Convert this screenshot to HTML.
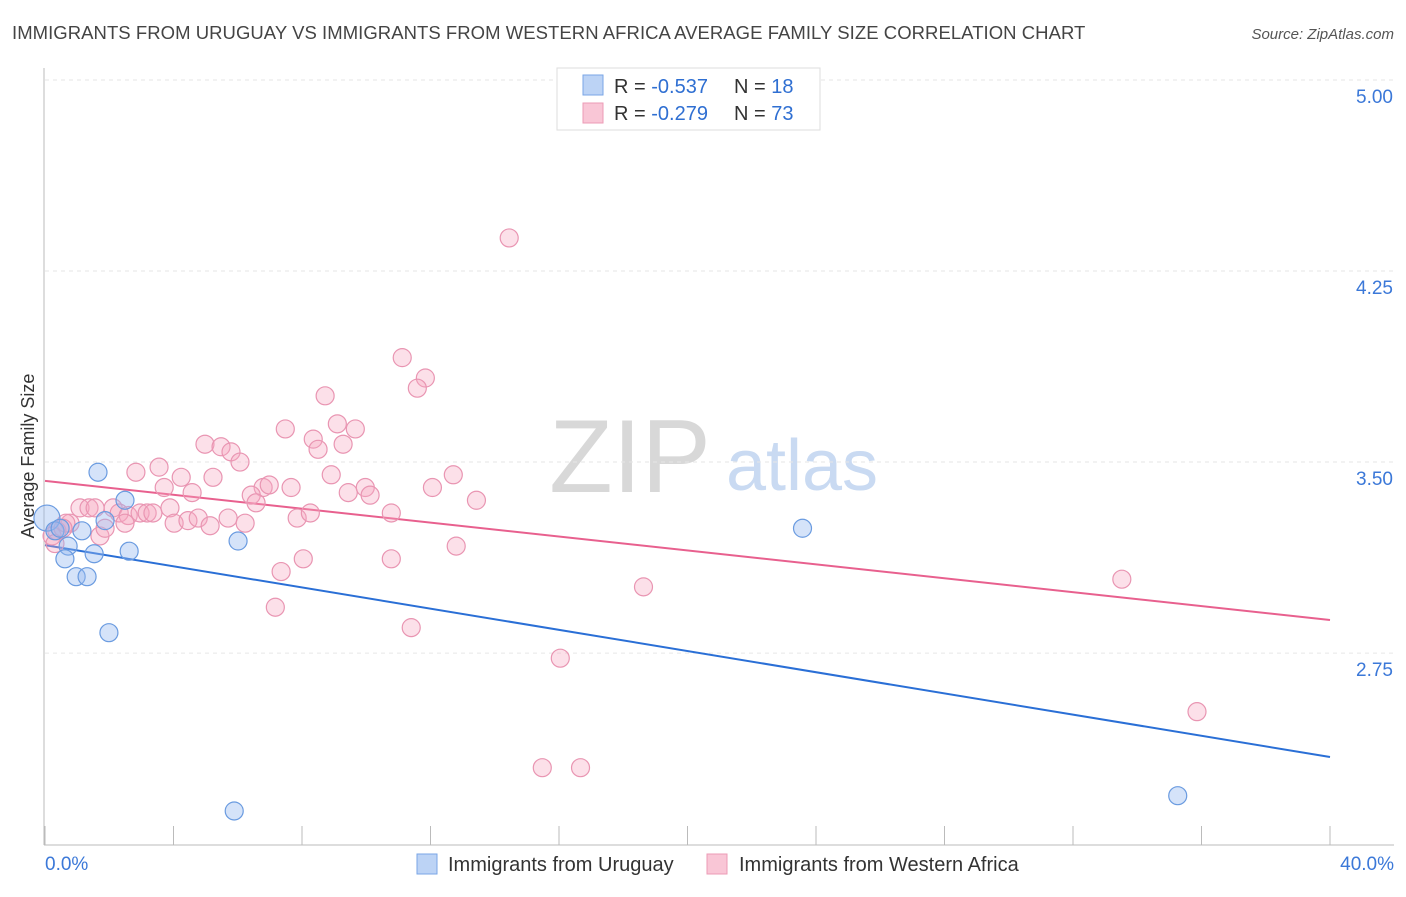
<!DOCTYPE html>
<html><head><meta charset="utf-8"><style>
body{margin:0;background:#fff;font-family:"Liberation Sans",sans-serif;}
svg text{font-family:"Liberation Sans",sans-serif;}
</style></head><body>
<svg id="chart" width="1406" height="892" viewBox="0 0 1406 892" xmlns="http://www.w3.org/2000/svg">
<text x="12" y="39" font-size="18.5" letter-spacing="0.05" fill="#444">IMMIGRANTS FROM URUGUAY VS IMMIGRANTS FROM WESTERN AFRICA AVERAGE FAMILY SIZE CORRELATION CHART</text>
<text x="1394" y="39" font-size="15" fill="#555" font-style="italic" text-anchor="end">Source: ZipAtlas.com</text>
<g>
<text x="630" y="492" font-size="104" fill="#d8d8d8" font-family="Liberation Serif" text-anchor="middle">ZIP</text>
<text x="802" y="490" font-size="72" fill="#c9daf2" text-anchor="middle">atlas</text>
</g>
<g id="grid"></g>
<g id="axes"></g>
<g id="lines"></g>
<g id="points"></g>
<text transform="translate(34,456) rotate(-90)" font-size="18" fill="#333" text-anchor="middle">Average Family Size</text>
<g>
<rect x="557" y="68" width="263" height="62" fill="#fff" stroke="#ddd"/>
<rect x="583" y="75" width="20" height="20" fill="#bcd3f5" stroke="#7aa6e6"/>
<rect x="583" y="103" width="20" height="20" fill="#f9c6d6" stroke="#ec9bb6"/>
<text x="614" y="93" font-size="20" fill="#333">R = <tspan fill="#2f6fd2">-0.537</tspan></text>
<text x="734" y="93" font-size="20" fill="#333">N = <tspan fill="#2f6fd2"> 18</tspan></text>
<text x="614" y="120" font-size="20" fill="#333">R = <tspan fill="#2f6fd2">-0.279</tspan></text>
<text x="734" y="120" font-size="20" fill="#333">N = <tspan fill="#2f6fd2">73</tspan></text>
</g>
<g>
<rect x="417" y="854" width="20" height="20" fill="#bcd3f5" stroke="#7aa6e6"/>
<text x="448" y="871" font-size="20" fill="#333">Immigrants from Uruguay</text>
<rect x="707" y="854" width="20" height="20" fill="#f9c6d6" stroke="#ec9bb6"/>
<text x="739" y="871" font-size="20" fill="#333">Immigrants from Western Africa</text>
</g>
</svg>
<script>
const yTicks=[5.00,4.25,3.50,2.75];
const yTickLabels=["5.00","4.25","3.50","2.75"];
const xTickLabels=["0.0%","40.0%"];
const uruguayX=[0.06,0.31,0.47,0.72,0.62,1.15,1.65,1.53,0.97,1.31,1.87,1.99,2.49,2.62,6.01,5.89,23.58,35.26];
const uruguayY=[3.28,3.23,3.24,3.17,3.12,3.23,3.46,3.14,3.05,3.05,3.27,2.83,3.35,3.15,3.19,2.13,3.24,2.19];
const africaX=[7.48,9.10,9.66,8.35,8.50,9.28,4.98,5.48,5.79,6.07,2.83,3.55,4.24,5.23,3.71,4.58,6.79,6.98,7.66,8.91,9.44,9.97,10.12,12.06,12.71,13.43,6.42,6.57,1.09,1.37,1.56,2.12,2.31,2.59,2.96,3.18,3.36,3.89,4.02,4.45,4.77,5.14,5.70,6.23,2.49,7.85,8.26,10.78,0.78,0.37,0.22,1.71,0.31,10.78,12.80,8.04,7.35,7.17,11.40,14.45,11.12,11.84,11.59,8.72,18.63,16.04,33.52,35.86,15.48,16.67,0.65,0.56,1.87];
const africaY=[3.63,3.65,3.63,3.59,3.55,3.57,3.57,3.56,3.54,3.50,3.46,3.48,3.44,3.44,3.40,3.38,3.40,3.41,3.40,3.45,3.38,3.40,3.37,3.40,3.45,3.35,3.37,3.34,3.32,3.32,3.32,3.32,3.30,3.29,3.30,3.30,3.30,3.32,3.26,3.27,3.28,3.25,3.28,3.26,3.26,3.28,3.30,3.30,3.26,3.23,3.21,3.21,3.18,3.12,3.17,3.12,3.07,2.93,2.85,4.38,3.91,3.83,3.79,3.76,3.01,2.73,3.04,2.52,2.30,2.30,3.26,3.24,3.24];
const uruguayTrend=[3.174,2.342];
const africaTrend=[3.426,2.880];
const NS="http://www.w3.org/2000/svg";
const X=v=>45+v*(1285/40);
const Y=v=>80+(5-v)*254.7;
function mk(tag,attrs,parent){const e=document.createElementNS(NS,tag);for(const k in attrs)e.setAttribute(k,attrs[k]);document.getElementById(parent).appendChild(e);return e;}
yTicks.forEach((t,i)=>{
 const g=mk('line',{x1:45,x2:1394,y1:Y(t),y2:Y(t),stroke:'#e6e6e6','stroke-dasharray':'4,4'},'grid');
 
 
 const l=mk('text',{x:1393,y:Y(t)+23,'font-size':19,fill:'#3b78d8','text-anchor':'end'},'axes');
 l.textContent=yTickLabels[i];
 
 
});
const ya=mk('line',{x1:44,x2:44,y1:68,y2:845,stroke:'#bbb'},'axes');


const xa=mk('line',{x1:44,x2:1394,y1:845,y2:845,stroke:'#bbb'},'axes');


for(let i=0;i<=10;i++){
 const t=mk('line',{x1:X(i*4),x2:X(i*4),y1:826,y2:845,stroke:'#bbb'},'axes');
 
 
}
const xl0=mk('text',{x:45,y:870,'font-size':19,fill:'#3b78d8'},'axes');
xl0.textContent=xTickLabels[0];


const xl1=mk('text',{x:1394,y:870,'font-size':19,fill:'#3b78d8','text-anchor':'end'},'axes');
xl1.textContent=xTickLabels[1];


const tb=mk('line',{x1:X(0),y1:Y(uruguayTrend[0]),x2:X(40),y2:Y(uruguayTrend[1]),stroke:'#2a6fd6','stroke-width':2},'lines');


const tp=mk('line',{x1:X(0),y1:Y(africaTrend[0]),x2:X(40),y2:Y(africaTrend[1]),stroke:'#e8608e','stroke-width':2},'lines');


africaX.forEach((x,i)=>{
 const c=mk('circle',{cx:X(x),cy:Y(africaY[i]),r:9,fill:'rgba(245,165,192,0.35)',stroke:'#e995b2','stroke-width':1.2},'points');
 
 
});
uruguayX.forEach((x,i)=>{
 const c=mk('circle',{cx:X(x),cy:Y(uruguayY[i]),r:i===0?13:9,fill:'rgba(150,185,240,0.4)',stroke:'#6a9be0','stroke-width':1.2},'points');
 
 
});
</script>
</body></html>
